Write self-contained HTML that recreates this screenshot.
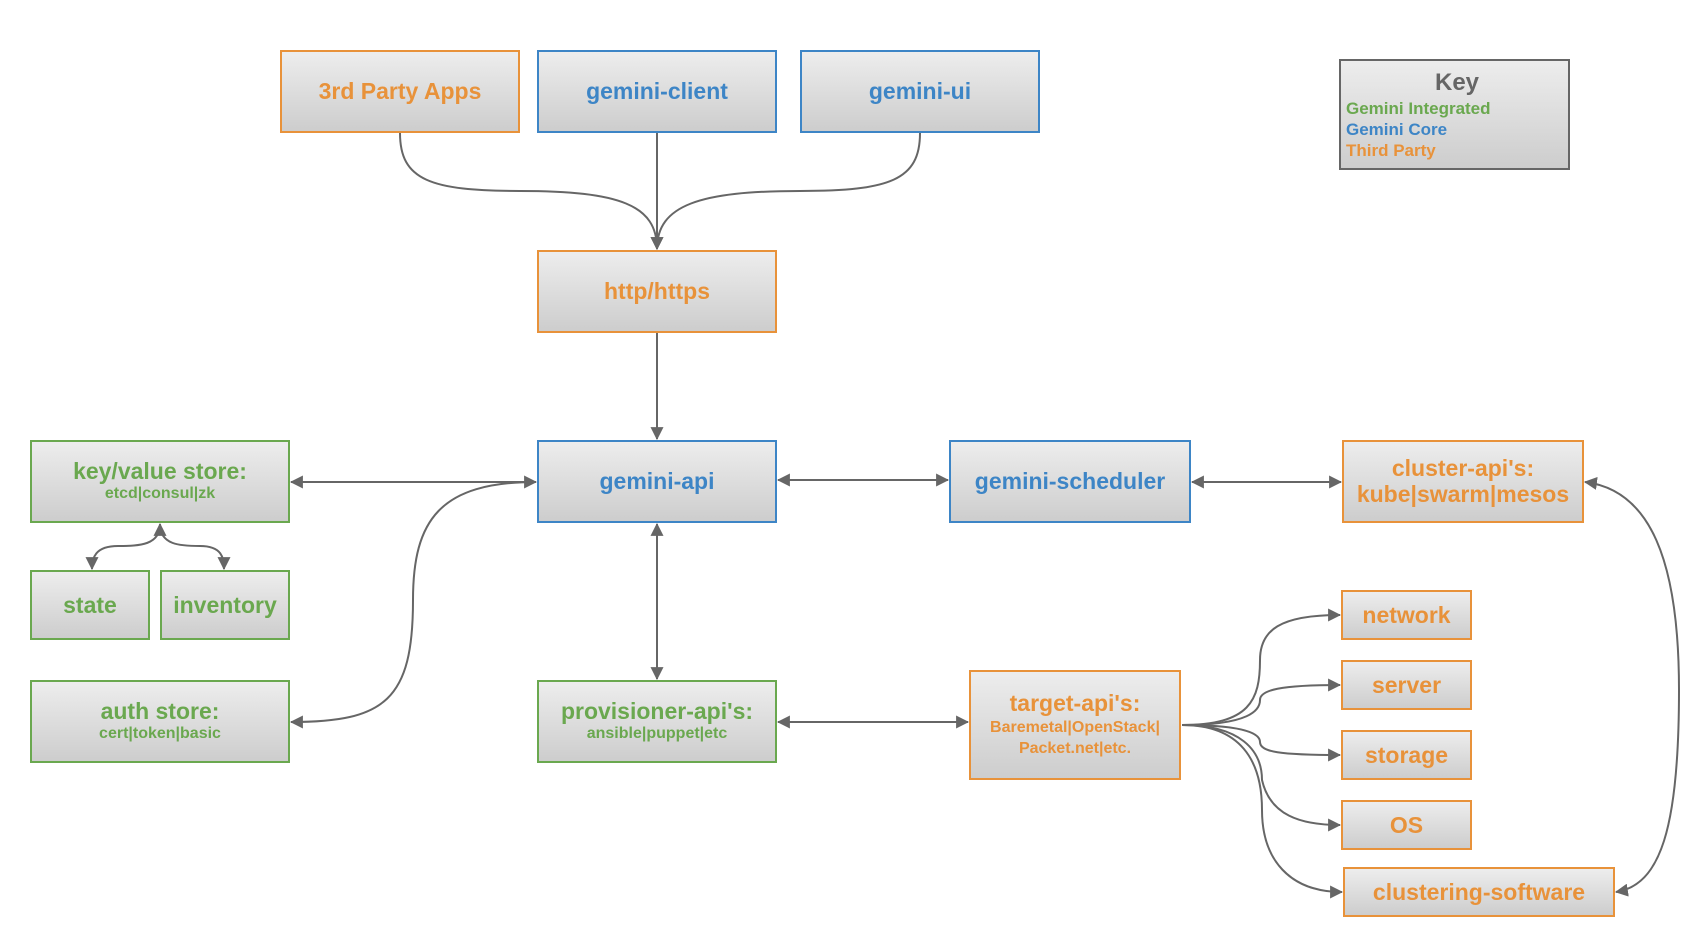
<!DOCTYPE html>
<html><head><meta charset="utf-8"><style>
html,body{margin:0;padding:0;background:#fff;}
body{width:1702px;height:942px;position:relative;overflow:hidden;font-family:"Liberation Sans",Arial,sans-serif;font-weight:bold;}
.b{position:absolute;box-sizing:border-box;border:2px solid;background:linear-gradient(#ededed,#cdcdcd);display:flex;flex-direction:column;align-items:center;justify-content:center;text-align:center;font-size:23px;line-height:1.15;}
.o{border-color:#E8923A;color:#E8923A;}
.bl{border-color:#3D85C6;color:#3D85C6;}
.g{border-color:#6AA84F;color:#6AA84F;}
.s{font-size:16px;line-height:1.3;}
svg{position:absolute;left:0;top:0;}
</style></head><body>
<svg width="1702" height="942" viewBox="0 0 1702 942">
<defs><marker id="a" viewBox="0 0 12 12" refX="11" refY="6" markerWidth="13" markerHeight="13" markerUnits="userSpaceOnUse" orient="auto-start-reverse"><path d="M0,0 L12,6 L0,12 z" fill="#666"/></marker></defs>
<g fill="none" stroke="#666" stroke-width="2">
<path d="M400,133 C400,180 430,191 520,191 C620,191 657,205 657,249" marker-end="url(#a)"/>
<path d="M657,133 L657,249" marker-end="url(#a)"/>
<path d="M920,133 C920,180 890,191 800,191 C700,191 657,205 657,249"/>
<path d="M657,333 L657,439" marker-end="url(#a)"/>
<path d="M291,482 L536,482" marker-start="url(#a)" marker-end="url(#a)"/>
<path d="M536,482 C440,482 413,520 413,600 C413,700 385,722 291,722" marker-end="url(#a)"/>
<path d="M160,524 C160,545 140,546 118,546 C95,546 92,558 92,569" marker-start="url(#a)" marker-end="url(#a)"/>
<path d="M160,524 C160,545 180,546 200,546 C222,546 224,558 224,569" marker-end="url(#a)"/>
<path d="M778,480 L948,480" marker-start="url(#a)" marker-end="url(#a)"/>
<path d="M1192,482 L1341,482" marker-start="url(#a)" marker-end="url(#a)"/>
<path d="M657,524 L657,679" marker-start="url(#a)" marker-end="url(#a)"/>
<path d="M778,722 L968,722" marker-start="url(#a)" marker-end="url(#a)"/>
<path d="M1182,725 C1250,725 1260,700 1260,660 C1260,630 1280,615 1340,615" marker-end="url(#a)"/>
<path d="M1182,725 C1250,725 1260,710 1260,700 C1260,690 1280,685 1340,685" marker-end="url(#a)"/>
<path d="M1182,725 C1250,725 1260,735 1260,742 C1260,752 1280,755 1340,755" marker-end="url(#a)"/>
<path d="M1182,725 C1240,725 1262,750 1262,780 C1270,815 1300,825 1340,825" marker-end="url(#a)"/>
<path d="M1182,725 C1240,725 1262,760 1262,810 C1262,860 1290,892 1342,892" marker-end="url(#a)"/>
<path d="M1585,482 C1650,490 1679,560 1679,690 C1679,830 1660,885 1616,892" marker-start="url(#a)" marker-end="url(#a)"/>
</g>
</svg>
<div class="b o" style="left:280px;top:50px;width:240px;height:83px;">3rd Party Apps</div>
<div class="b bl" style="left:537px;top:50px;width:240px;height:83px;">gemini-client</div>
<div class="b bl" style="left:800px;top:50px;width:240px;height:83px;">gemini-ui</div>
<div class="b o" style="left:537px;top:250px;width:240px;height:83px;">http/https</div>
<div class="b bl" style="left:537px;top:440px;width:240px;height:83px;">gemini-api</div>
<div class="b g" style="left:30px;top:440px;width:260px;height:83px;">key/value store:<span class="s">etcd|consul|zk</span></div>
<div class="b g" style="left:30px;top:570px;width:120px;height:70px;">state</div>
<div class="b g" style="left:160px;top:570px;width:130px;height:70px;">inventory</div>
<div class="b g" style="left:30px;top:680px;width:260px;height:83px;">auth store:<span class="s">cert|token|basic</span></div>
<div class="b g" style="left:537px;top:680px;width:240px;height:83px;">provisioner-api's:<span class="s">ansible|puppet|etc</span></div>
<div class="b bl" style="left:949px;top:440px;width:242px;height:83px;">gemini-scheduler</div>
<div class="b o" style="left:1342px;top:440px;width:242px;height:83px;line-height:1.1;">cluster-api's:<br>kube|swarm|mesos</div>
<div class="b o" style="left:969px;top:670px;width:212px;height:110px;">target-api's:<span class="s" style="line-height:1.35;">Baremetal|OpenStack|<br>Packet.net|etc.</span></div>
<div class="b o" style="left:1341px;top:590px;width:131px;height:50px;">network</div>
<div class="b o" style="left:1341px;top:660px;width:131px;height:50px;">server</div>
<div class="b o" style="left:1341px;top:730px;width:131px;height:50px;">storage</div>
<div class="b o" style="left:1341px;top:800px;width:131px;height:50px;">OS</div>
<div class="b o" style="left:1343px;top:867px;width:272px;height:50px;">clustering-software</div>
<div class="b" style="left:1339px;top:59px;width:231px;height:111px;border-color:#666;align-items:flex-start;padding-left:5px;font-size:17px;line-height:1.25;">
<div style="color:#666;font-size:24px;width:100%;text-align:center;">Key</div>
<div style="color:#6AA84F;">Gemini Integrated</div>
<div style="color:#3D85C6;">Gemini Core</div>
<div style="color:#E8923A;">Third Party</div>
</div>
</body></html>
